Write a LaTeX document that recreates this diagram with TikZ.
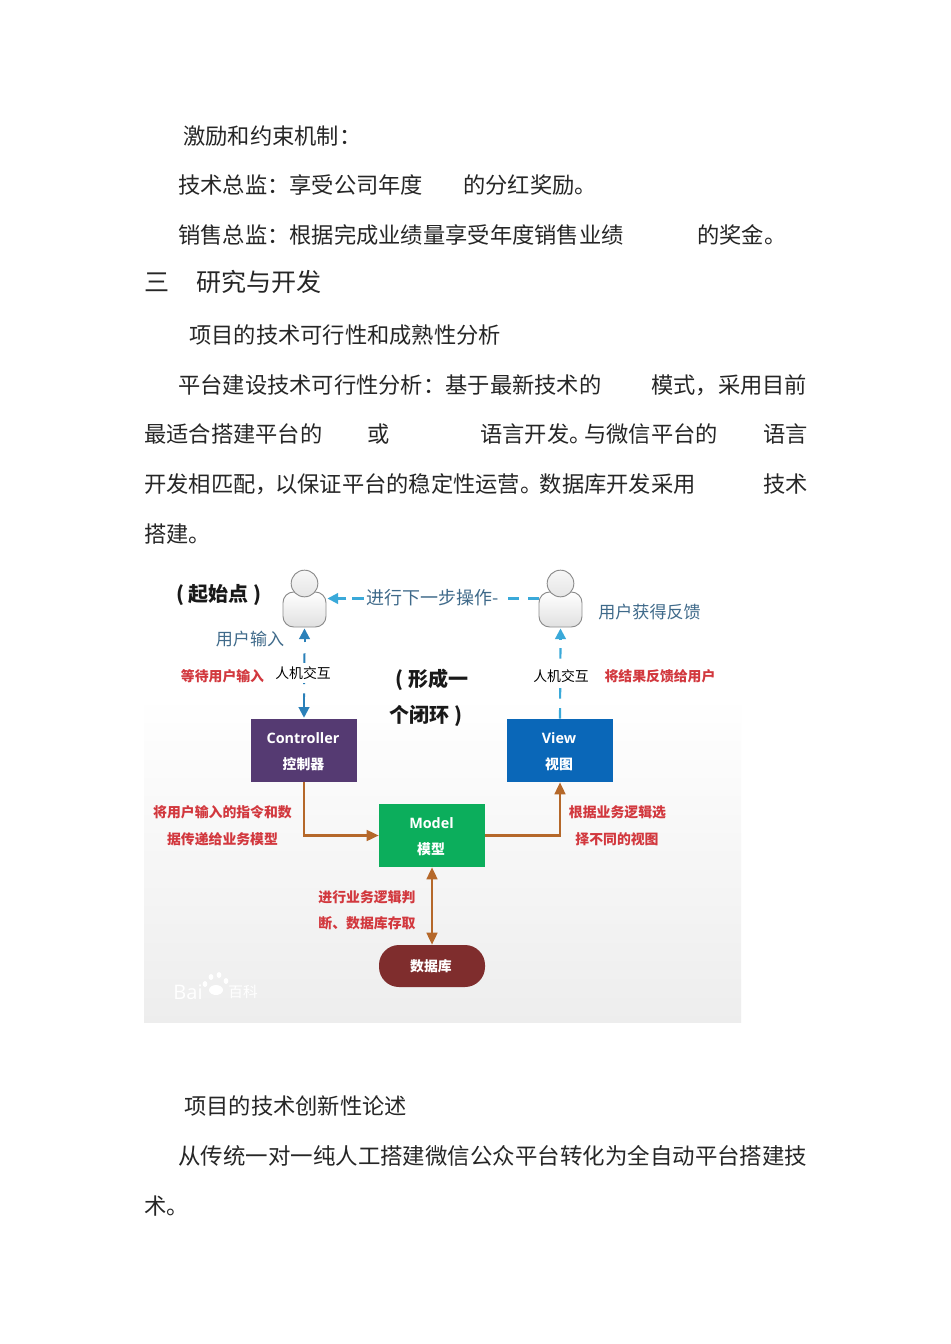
\documentclass[tikz,border=0pt]{standalone}
\usepackage{fontspec}
\setmainfont{Noto Sans CJK SC}
\newfontfamily\latinb{Open Sans}
\usetikzlibrary{arrows.meta,calc}
\definecolor{bluetx}{HTML}{3F6A8A}
\definecolor{redtx}{HTML}{D2383E}
\definecolor{ctrl}{HTML}{553A72}
\definecolor{viewc}{HTML}{0A67B8}
\definecolor{modelc}{HTML}{0CAE5C}
\definecolor{dbc}{HTML}{7F2D2D}
\definecolor{orangel}{HTML}{B5682A}
\definecolor{bluel}{HTML}{2A80B9}
\definecolor{cyanl}{HTML}{3AA9D9}
\tikzset{
  body/.style={anchor=west,inner sep=0pt,text=black!85,font=\fontsize{16.7}{20}\selectfont},
  head/.style={body,font=\fontsize{18.8}{22}\selectfont},
  lab/.style={inner sep=0pt,align=center},
  redlab/.style={lab,text=redtx,font=\fontsize{10.4}{12}\selectfont\bfseries},
  hci/.style={lab,fill=white,inner xsep=1pt,inner ysep=3pt,text=black,font=\fontsize{10.4}{12}\selectfont},
  bluelab/.style={lab,text=bluetx,font=\fontsize{12.8}{15}\selectfont},
  big/.style={lab,text=black!90,font=\fontsize{15}{18}\selectfont\bfseries},
  box/.style={minimum width=79.5pt,minimum height=47.25pt,inner sep=0pt},
  boxen/.style={lab,text=white,font=\fontsize{10.8}{13}\latinb\bfseries},
  boxzh/.style={lab,text=white,font=\fontsize{10.4}{12}\selectfont\bfseries},
  headc/.style={circle,minimum size=20pt,inner sep=0pt,draw=black!45,line width=.7pt,top color=black!3,bottom color=black!10},
  bodyc/.style={rounded corners=8pt,minimum width=32.25pt,minimum height=26.25pt,inner sep=0pt,draw=black!45,line width=.7pt,top color=white,bottom color=black!12},
  orangearrow/.style={draw=orangel,line width=1.8pt},
  tipo/.style={-{Triangle[length=9pt,width=8pt]}},
  dashb/.style={draw=bluel,line width=1.5pt,dash pattern=on 8pt off 7pt},
  dashc/.style={draw=cyanl,line width=1.6pt,dash pattern=on 8pt off 7pt},
  solidb/.style={draw=bluel,line width=1.5pt},
  solidc/.style={draw=cyanl,line width=1.6pt},
  tipb/.style={-{Triangle[length=8pt,width=8pt]}},
}
\begin{document}
\begin{tikzpicture}[x=0.75pt,y=-0.75pt]
\useasboundingbox[fill=white] (0,0) rectangle (950,1344);
% body text
\node[body] (t1) at (183,136) {激励和约束机制：};
\node[body] (t2a) at (178,185) {技术总监：享受公司年度};
\node[body] (t2b) at (463,185) {的分红奖励。};
\node[body] (t3a) at (178,235) {销售总监：根据完成业绩量享受年度销售业绩};
\node[body] (t3b) at (697,235) {的奖金。};
\node[head] (t4a) at (144,282) {三};
\node[head] (t4b) at (196,282) {研究与开发};
\node[body] (t5) at (189,335) {项目的技术可行性和成熟性分析};
\node[body] (t6a) at (178,385) {平台建设技术可行性分析：基于最新技术的};
\node[body] (t6b) at (651,385) {模式，采用目前};
\node[body] (t7a) at (144,434) {最适合搭建平台的};
\node[body] (t7b) at (367,434) {或};
\node[body] (t7c) at (480,434) {语言开发。};
\node[body] (t7e) at (584,434) {与微信平台的};
\node[body] (t7d) at (763,434) {语言};
\node[body] (t8a) at (144,484) {开发相匹配，};
\node[body] (t8c) at (275,484) {以保证平台的稳定性运营。};
\node[body] (t8e) at (539.5,484) {数据库开发采用};
\node[body] (t8b) at (763,484) {技术};
\node[body] (t9) at (144,534) {搭建。};
\node[body] (t10) at (184,1106) {项目的技术创新性论述};
\node[body,font=\fontsize{16.85}{20}\selectfont] (t11) at (178,1156) {从传统一对一纯人工搭建微信公众平台转化为全自动平台搭建技};
\node[body] (t12) at (144,1206) {术。};
% image background
\shade[top color=white,bottom color=black!7] (144,695) rectangle (741,1022);
% persons
\node[bodyc] (u1) at (304.5,609.5) {};
\node[headc] (h1) at (304.5,583.5) {};
\node[bodyc] (u2) at (560.5,609.5) {};
\node[headc] (h2) at (560.5,583.5) {};
% boxes
\node[box,fill=ctrl] (ctl) at (304,750.5) {};
\node[box,fill=viewc] (view) at (560,750.5) {};
\node[box,fill=modelc] (model) at (432,835.5) {};
\node[minimum width=79.5pt,minimum height=31.5pt,inner sep=0pt,rounded corners=15pt,fill=dbc] (db) at (432,966) {};
\node[boxen] (cen) at (303,738) {Controller};
\node[boxzh] (czh) at (303.5,764) {控制器};
\node[boxen] (ven) at (559,738) {View};
\node[boxzh] (vzh) at (559,764) {视图};
\node[boxen] (men) at (431.5,823) {Model};
\node[boxzh] (mzh) at (431,849) {模型};
\node[boxzh] (dzh) at (431,966) {数据库};
% labels over the top edge
\node[lab,text=bluetx,font=\fontsize{13.5}{16}\selectfont] (next) at (433,598) {进行下一步操作-};
% dashed connectors
\draw[dashb] ($(u1.south)+(0,26)$) -- ($(ctl.north)+(0,-22)$);
\draw[solidb,tipb] ($(u1.south)+(0,15)$) -- ($(u1.south)+(0,1)$);
\draw[solidb,tipb] ($(ctl.north)+(0,-24)$) -- ($(ctl.north)+(0,-1)$);
\draw[dashc] (view.north) -- ($(u2.south)+(0,15)$);
\draw[solidc,tipb] ($(u2.south)+(0,12)$) -- ($(u2.south)+(0,1)$);
\draw[dashc] ($(u2.west)+(0,-11)$) -- (next.east |- {$(u2.west)+(0,-11)$});
\draw[solidc] ($(next.west)+(-3,0.5)$) -- ($(next.west)+(-15,0.5)$);
\draw[solidc,tipb] ($(u1.east)+(20,-11)$) -- ($(u1.east)+(1,-11)$);
% orange connectors
\draw[orangearrow,tipo] (ctl.south) |- (model.west);
\draw[orangearrow,tipo] (model.east) -| (view.south);
\draw[orangearrow,{Triangle[length=9pt,width=8pt]}-{Triangle[length=9pt,width=8pt]}] (model.south) -- (db.north);
% labels
\node[big] (start) at (219,595) {( 起始点 )};
\node[bluelab] (uin) at (250,639) {用户输入};
\node[bluelab] (ufb) at (649.5,612) {用户获得反馈};
\node[redlab] (wait) at (222.5,676) {等待用户输入};
\node[hci] (hci1) at (303,673) {人机交互};
\node[hci] (hci2) at (561,676) {人机交互};
\node[redlab] (back) at (660,676) {将结果反馈给用户};
\node[big] (loop1) at (432,680) {( 形成一};
\node[big] (loop2) at (426,716) {个闭环 )};
\node[redlab] (l1a) at (222.5,812) {将用户输入的指令和数};
\node[redlab] (l1b) at (222.5,839) {据传递给业务模型};
\node[redlab] (l2a) at (617.5,812) {根据业务逻辑选};
\node[redlab] (l2b) at (617,839) {择不同的视图};
\node[redlab] (l3a) at (367,897) {进行业务逻辑判};
\node[redlab] (l3b) at (367,923) {断、数据库存取};
% watermark
\node[lab,text=white,font=\fontsize{15}{17}\latinb] (wm1) at (188,992) {Bai};
\node[lab,text=white,font=\fontsize{11}{13}\selectfont] (wm2) at (243,992) {百科};
\fill[white] (216,990) ellipse (7 and 5);
\foreach \a/\b in {205/984,211/977,219/975,226/981}{\fill[white] (\a,\b) ellipse (2.4 and 3);}
\end{tikzpicture}
\end{document}
